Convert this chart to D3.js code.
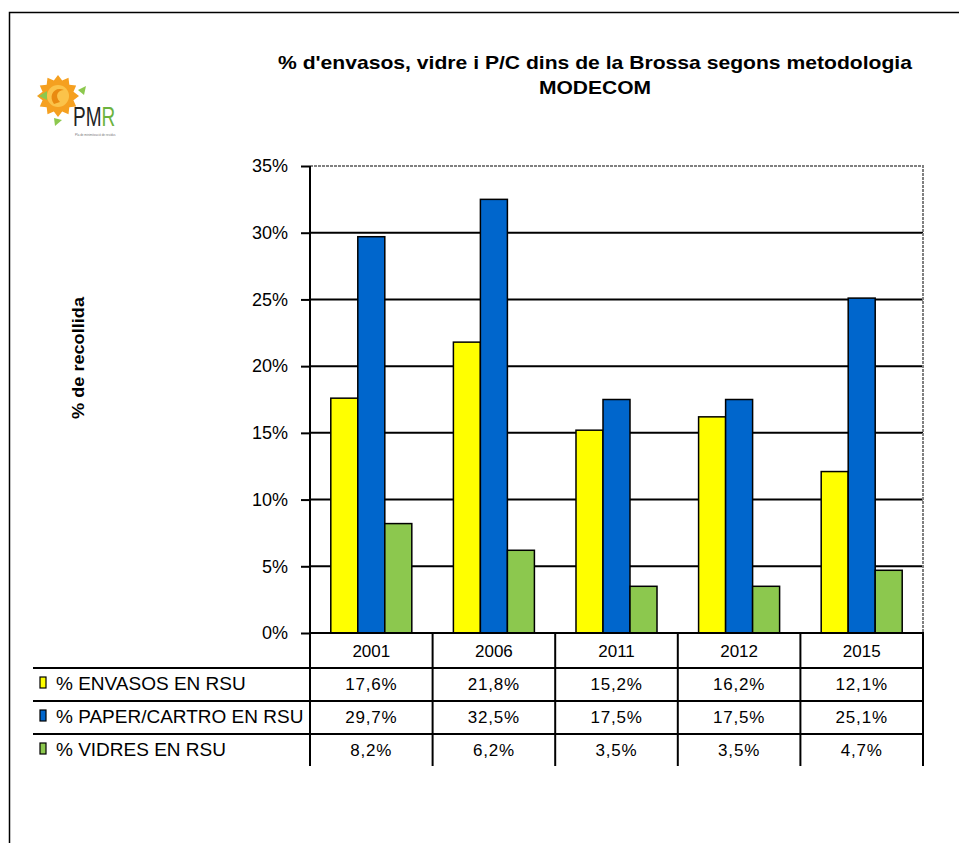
<!DOCTYPE html>
<html>
<head>
<meta charset="utf-8">
<script src="https://cdn.jsdelivr.net/npm/d3@7"></script>
<style>
  body { margin: 0; background: #fff; }
  text { font-family: Arial, "Liberation Sans", sans-serif; }
</style>
</head>
<body>
<div id="chart"></div>
<script>
// data
var years = ["2001", "2006", "2011", "2012", "2015"];
var seriesNames = ["% ENVASOS EN RSU", "% PAPER/CARTRO EN RSU", "% VIDRES EN RSU"];
var envasos = [17.6, 21.8, 15.2, 16.2, 12.1];
var paper = [29.7, 32.5, 17.5, 17.5, 25.1];
var vidres = [8.2, 6.2, 3.5, 3.5, 4.7];
var yTicks = [0, 5, 10, 15, 20, 25, 30, 35];
var colors = ["#ffff00", "#0066cc", "#8cc84e"];

var allSeries = [envasos, paper, vidres];

// dimensions
var width = 959, height = 843;
var plot = {left: 310, right: 923, top: 166, bottom: 633};
var rowLines = [668, 701, 734];
var tableBottom = 766;

var svg = d3.select("#chart")
    .append("svg")
    .attr("width", width)
    .attr("height", height);

// outer frame (left and top only are visible)
svg.append("path")
    .attr("d", "M9.5,843 L9.5,12.5 L959,12.5")
    .attr("fill", "none")
    .attr("stroke", "#000")
    .attr("stroke-width", 1.5);

// title
svg.append("text")
    .attr("x", 595).attr("y", 69)
    .attr("text-anchor", "middle")
    .attr("font-size", 19).attr("font-weight", "bold")
    .attr("textLength", 634).attr("lengthAdjust", "spacingAndGlyphs")
    .text("% d'envasos, vidre i P/C dins de la Brossa segons metodologia");
svg.append("text")
    .attr("x", 595).attr("y", 94)
    .attr("text-anchor", "middle")
    .attr("font-size", 19).attr("font-weight", "bold")
    .attr("textLength", 112).attr("lengthAdjust", "spacingAndGlyphs")
    .text("MODECOM");

// little logo
var logo = svg.append("g").attr("transform", "translate(58,96)");
var rays = [];
for (var i = 0; i < 24; i++) rays.push([i * Math.PI / 12, i % 2 ? 16 : 21]);
logo.append("path")
    .attr("d", d3.lineRadial().curve(d3.curveLinearClosed)(rays))
    .attr("fill", "#f5a020");
logo.append("circle").attr("r", 11).attr("fill", "#fbc34a");
logo.append("path")
    .attr("d", "M-4,8 C-10,0 -4,-10 6,-6 C0,-6 -4,0 2,6 Z")
    .attr("fill", "#e98a10");
logo.append("path").attr("d", "M-19,0 L-11,-5 L-11,4 Z").attr("fill", "#8cc84e");
logo.append("path").attr("d", "M20,-6 L28,-10 L26,-1 Z").attr("fill", "#8cc84e");
logo.append("path").attr("d", "M-4,22 L4,24 L-3,30 Z").attr("fill", "#8cc84e");
var pmr = logo.append("text")
    .attr("transform", "translate(15,30) scale(1,1.5)")
    .attr("font-size", 19).attr("fill", "#222");
pmr.append("tspan").text("PM");
pmr.append("tspan").attr("fill", "#6cb33e").text("R");
logo.append("text").attr("x", 17).attr("y", 40)
    .attr("font-size", 3).attr("fill", "#777")
    .text("Pla de minimització de residus");

// scales
var x0 = d3.scaleBand()
    .domain(years)
    .range([plot.left, plot.right]);

var x1 = d3.scaleBand()
    .domain(d3.range(allSeries.length))
    .range([0, x0.bandwidth()])
    .paddingOuter(0.77);

var y = d3.scaleLinear()
    .domain([0, 35])
    .range([plot.bottom, plot.top]);

// gridlines
svg.append("g").selectAll("line")
    .data(yTicks.filter(function(d) { return d > 0 && d < 35; }))
    .enter().append("line")
    .attr("x1", plot.left).attr("x2", plot.right)
    .attr("y1", function(d) { return y(d); })
    .attr("y2", function(d) { return y(d); })
    .attr("stroke", "#000").attr("stroke-width", 2);

// plot area border (top and right), grey dashed
svg.append("path")
    .attr("d", "M" + plot.left + "," + y(35) + " L" + plot.right + "," + y(35) + " L" + plot.right + "," + plot.bottom)
    .attr("fill", "none")
    .attr("stroke", "#808080").attr("stroke-width", 2)
    .attr("stroke-dasharray", "3,1");

// y axis
var yAxis = svg.append("g")
    .attr("transform", "translate(" + plot.left + ",0)")
    .call(d3.axisLeft(y).tickValues(yTicks).tickSize(9).tickPadding(13)
        .tickFormat(function(d) { return d + "%"; }));
yAxis.select(".domain").remove();
yAxis.selectAll(".tick line").attr("stroke", "#000").attr("stroke-width", 2);
yAxis.selectAll("text")
    .attr("font-size", 18)
    .attr("font-family", "Arial, 'Liberation Sans', sans-serif")
    .attr("fill", "#000");

// y axis title
svg.append("text")
    .attr("transform", "translate(84,358) rotate(-90)")
    .attr("text-anchor", "middle")
    .attr("font-size", 17).attr("font-weight", "bold")
    .attr("textLength", 122).attr("lengthAdjust", "spacingAndGlyphs")
    .text("% de recollida");

// bars
var groups = svg.append("g").selectAll("g")
    .data(years)
    .enter().append("g")
    .attr("transform", function(d) { return "translate(" + x0(d) + ",0)"; });

groups.selectAll("rect")
    .data(function(d, i) { return allSeries.map(function(s, k) { return {k: k, value: s[i]}; }); })
    .enter().append("rect")
    .attr("x", function(d) { return x1(d.k); })
    .attr("y", function(d) { return y(d.value); })
    .attr("width", x1.bandwidth())
    .attr("height", function(d) { return y(0) - y(d.value); })
    .attr("fill", function(d) { return colors[d.k]; })
    .attr("stroke", "#000").attr("stroke-width", 1.5);

// axis lines
svg.append("line")
    .attr("x1", plot.left).attr("x2", plot.left)
    .attr("y1", plot.top).attr("y2", tableBottom)
    .attr("stroke", "#000").attr("stroke-width", 2);
svg.append("line")
    .attr("x1", plot.left).attr("x2", plot.right + 1)
    .attr("y1", plot.bottom).attr("y2", plot.bottom)
    .attr("stroke", "#000").attr("stroke-width", 2);

// data table
var table = svg.append("g");
table.selectAll(".col")
    .data(years)
    .enter().append("line")
    .attr("class", "col")
    .attr("x1", function(d) { return x0(d) + x0.bandwidth(); })
    .attr("x2", function(d) { return x0(d) + x0.bandwidth(); })
    .attr("y1", plot.bottom).attr("y2", tableBottom)
    .attr("stroke", "#000").attr("stroke-width", 2);

table.selectAll(".row")
    .data(rowLines)
    .enter().append("line")
    .attr("class", "row")
    .attr("x1", 33).attr("x2", plot.right)
    .attr("y1", function(d) { return d; }).attr("y2", function(d) { return d; })
    .attr("stroke", "#000").attr("stroke-width", 2);

// year header
table.selectAll(".year")
    .data(years)
    .enter().append("text")
    .attr("class", "year")
    .attr("x", function(d) { return x0(d) + x0.bandwidth() / 2; })
    .attr("y", 657)
    .attr("text-anchor", "middle")
    .attr("font-size", 17)
    .text(function(d) { return d; });

var rowMid = [684, 717, 750];
var rows = table.selectAll(".srow")
    .data(allSeries)
    .enter().append("g")
    .attr("class", "srow");

rows.append("rect")
    .attr("x", 40).attr("y", function(d, k) { return rowMid[k] - 7; })
    .attr("width", 6).attr("height", 11)
    .attr("fill", function(d, k) { return colors[k]; })
    .attr("stroke", "#000").attr("stroke-width", 1.2);

rows.append("text")
    .attr("x", 56).attr("y", function(d, k) { return rowMid[k] + 6; })
    .attr("font-size", 19)
    .text(function(d, k) { return seriesNames[k]; });

rows.each(function(s, k) {
    d3.select(this).selectAll(".val")
        .data(s)
        .enter().append("text")
        .attr("class", "val")
        .attr("x", function(d, i) { return x0(years[i]) + x0.bandwidth() / 2; })
        .attr("y", rowMid[k] + 6)
        .attr("text-anchor", "middle")
        .attr("font-size", 17)
        .attr("letter-spacing", 0.8)
        .text(function(d) { return d.toFixed(1).replace(".", ",") + "%"; });
});
</script>
</body>
</html>
